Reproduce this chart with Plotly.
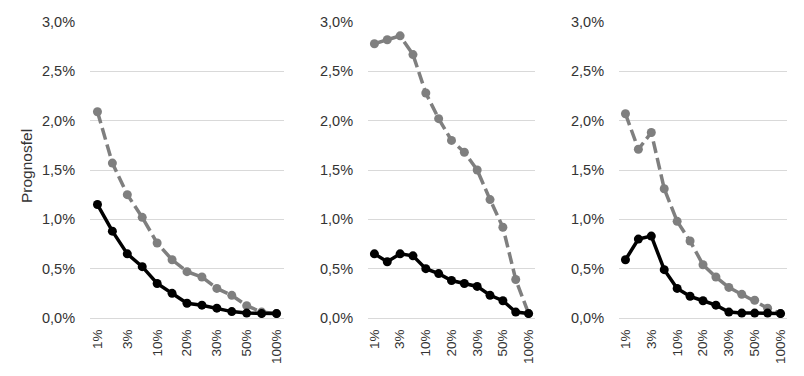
import plotly.graph_objects as go

categories = ["1%", "2%", "3%", "5%", "10%", "15%", "20%", "25%", "30%", "40%", "50%", "75%", "100%"]
tick_labels = ["1%", "3%", "10%", "20%", "30%", "50%", "100%"]
y_ticks = [0.0, 0.005, 0.01, 0.015, 0.02, 0.025, 0.03]
y_tick_text = ["0,0%", "0,5%", "1,0%", "1,5%", "2,0%", "2,5%", "3,0%"]

p1_gray = [2.09, 1.57, 1.25, 1.02, 0.76, 0.59, 0.47, 0.415, 0.30, 0.23, 0.125, 0.06, 0.045]
p1_black = [1.15, 0.88, 0.65, 0.52, 0.35, 0.25, 0.15, 0.13, 0.10, 0.065, 0.05, 0.045, 0.045]
p2_gray = [2.78, 2.82, 2.86, 2.67, 2.28, 2.02, 1.80, 1.68, 1.50, 1.20, 0.92, 0.39, 0.045]
p2_black = [0.65, 0.57, 0.65, 0.63, 0.50, 0.45, 0.38, 0.35, 0.32, 0.23, 0.175, 0.06, 0.045]
p3_gray = [2.07, 1.71, 1.88, 1.31, 0.98, 0.78, 0.54, 0.415, 0.31, 0.24, 0.18, 0.10, 0.045]
p3_black = [0.59, 0.80, 0.83, 0.49, 0.30, 0.22, 0.175, 0.13, 0.06, 0.05, 0.05, 0.05, 0.045]

panels = [(p1_gray, p1_black), (p2_gray, p2_black), (p3_gray, p3_black)]

W, H = 804, 376
OFF = 8  # page body margin
x_domains = [(90 - OFF, 284 - OFF), (368 - OFF, 535 - OFF), (619 - OFF, 787 - OFF)]
y_top, y_bot = 22 - OFF, 318 - OFF

GRAY = "#7f7f7f"
BLACK = "#000000"
FONT = "Liberation Sans, Arial, sans-serif"
TEXT = "#333333"

fig = go.Figure()
for i, (g, b) in enumerate(panels):
    n = "" if i == 0 else str(i + 1)
    fig.add_trace(go.Scatter(
        x=categories, y=[v / 100 for v in g], mode="lines+markers",
        line=dict(color=GRAY, width=3.5, dash="12px,5px"),
        marker=dict(color=GRAY, size=9), xaxis="x" + n, yaxis="y" + n, showlegend=False))
    fig.add_trace(go.Scatter(
        x=categories, y=[v / 100 for v in b], mode="lines+markers",
        line=dict(color=BLACK, width=3.5),
        marker=dict(color=BLACK, size=9), xaxis="x" + n, yaxis="y" + n, showlegend=False))
    x0, x1 = x_domains[i]
    fig.update_layout(**{
        "xaxis" + n: dict(
            domain=[x0 / W, x1 / W], anchor="y" + n, type="category",
            categoryorder="array", categoryarray=categories,
            range=[-0.5, len(categories) - 0.5],
            tickmode="array", tickvals=tick_labels, ticktext=tick_labels,
            tickangle=-90, showgrid=False, zeroline=False,
            showline=True, linecolor="#d9d9d9", linewidth=1,
            ticks="outside", ticklen=5, tickcolor="rgba(0,0,0,0)",
            tickfont=dict(family=FONT, size=13.5, color=TEXT), automargin=False),
        "yaxis" + n: dict(
            domain=[1 - y_bot / H, 1 - y_top / H], anchor="x" + n,
            range=[0, 0.03], tickmode="array", tickvals=y_ticks, ticktext=y_tick_text,
            showgrid=True, gridcolor="#d9d9d9", gridwidth=1, zeroline=False,
            showline=False, ticks="outside", ticklen=11, tickcolor="rgba(0,0,0,0)",
            tickfont=dict(family=FONT, size=14.5, color=TEXT), automargin=False),
    })

fig.add_annotation(text="Prognosfel", xref="paper", yref="paper",
                   x=(26 - OFF) / W, y=1 - (166 - OFF) / H, textangle=-90, showarrow=False,
                   font=dict(family=FONT, size=15.5, color=TEXT),
                   xanchor="center", yanchor="middle")

fig.update_layout(width=W, height=H, margin=dict(l=0, r=0, t=0, b=0),
                  paper_bgcolor="white", plot_bgcolor="white")

fig.write_html("out.html")
